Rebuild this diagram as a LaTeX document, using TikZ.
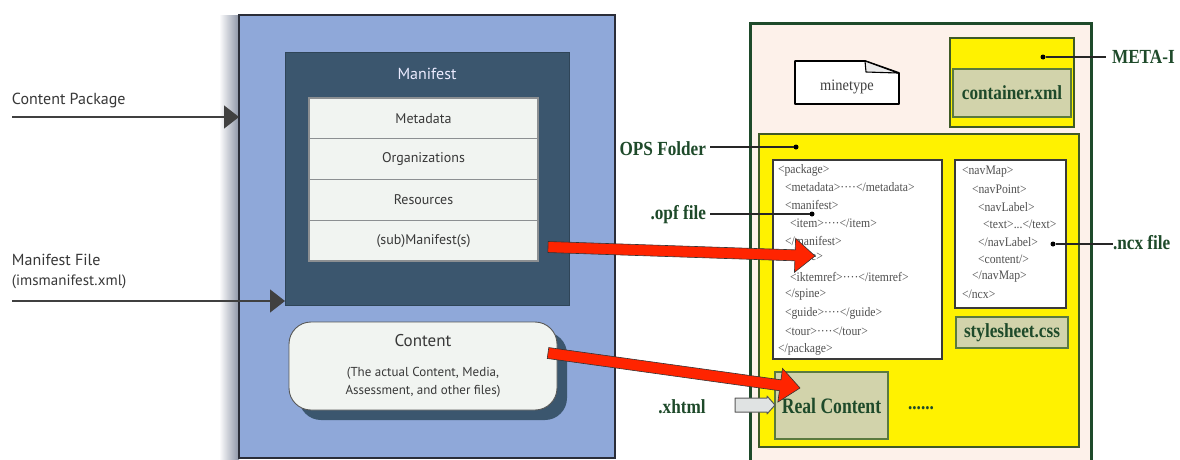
\documentclass[tikz,border=0pt]{standalone}
\usepackage{graphicx}
\usepackage{fontspec}
\setmainfont{Liberation Serif}
\newfontfamily\lsans{PT Sans}
\usetikzlibrary{arrows.meta,calc}

\definecolor{panelblue}{HTML}{8FA8D9}
\definecolor{panelframe}{HTML}{2A2D38}
\definecolor{shadowgray}{HTML}{8C94A6}
\definecolor{manifestbg}{HTML}{3B566E}
\definecolor{manifestframe}{HTML}{2F4558}
\definecolor{rowbg}{HTML}{F1F4F1}
\definecolor{rowline}{HTML}{8C8F92}
\definecolor{labelgray}{HTML}{383838}
\definecolor{opsgreen}{HTML}{1E4A2A}
\definecolor{peach}{HTML}{FDF1EA}
\definecolor{olive}{HTML}{D2D3AB}
\definecolor{oliveline}{HTML}{5B7A3E}
\definecolor{yellowline}{HTML}{3F5A26}
\definecolor{codegray}{HTML}{505050}
\definecolor{codeframe}{HTML}{3A3A3A}
\definecolor{arrowred}{HTML}{FF2400}
\definecolor{hintgray}{HTML}{E0E3E3}

% condensed bold label text
\newcommand\sq[2][0.86]{\scalebox{#1}[1]{#2}}

% thick outlined block arrow from #1 to its tip #2
\newcommand\fatarrow[2]{%
  \coordinate (fa-base) at ($(#2)!20pt!(#1)$);
  \path[fatred] ($(#1)!5.5pt!90:(#2)$) -- ($(fa-base)!5.5pt!90:(#2)$)
    -- ($(fa-base)!17pt!90:(#2)$) -- (#2) -- ($(fa-base)!17pt!-90:(#2)$)
    -- ($(fa-base)!5.5pt!-90:(#2)$) -- ($(#1)!5.5pt!-90:(#2)$) -- cycle;}

\begin{document}
\begin{tikzpicture}[x=1pt,y=-1pt,
  every node/.style={inner sep=0pt,outer sep=0pt},
  box/.style={anchor=north west},
  sanslbl/.style={anchor=west,font=\lsans\fontsize{16}{18}\selectfont,text=labelgray},
  rowbox/.style={box,fill=rowbg,draw=rowline,line width=1.2pt,minimum width=229pt,
    minimum height=40.75pt,font=\lsans\fontsize{14}{16}\selectfont,text=labelgray},
  greenlbl/.style={font=\fontsize{20}{22}\selectfont\bfseries,text=opsgreen},
  olivebox/.style={box,fill=olive,draw=oliveline,line width=1.5pt},
  yellowbox/.style={box,fill=yellow,draw=yellowline,line width=1.6pt},
  codebox/.style={box,fill=white,draw=codeframe,line width=1.2pt},
  code/.style={anchor=west,font=\fontsize{13}{13}\selectfont,text=codegray,xscale=0.9},
  pin/.style={circle,fill=black,minimum size=5pt},
  pinline/.style={draw=black!85,line width=1.2pt},
  fatred/.style={fill=arrowred,draw=black!80,line width=0.6pt,line join=miter},
  pointer/.style={draw=black!75,line width=1.3pt,-{Triangle[length=15pt,width=23pt]}},
]
\useasboundingbox (0,0) rectangle (1180,459);
\fill[white] (0,0) rectangle (1180,459);

% ---------- content package (left) ----------
\shade[left color=white,right color=shadowgray] (219,15) rectangle (239,470);
\node[box,fill=panelblue,draw=panelframe,line width=1.3pt,
  minimum width=376pt,minimum height=443pt] (pkg) at (239,15) {};

\node[box,fill=manifestbg,draw=manifestframe,line width=0.8pt,
  minimum width=284pt,minimum height=253pt] (manifest) at (285,52) {};
\node[font=\lsans\fontsize{16}{18}\selectfont,text=white!92!blue] (mtitle) at (427,74) {Manifest};

\node[rowbox] (meta) at (309,98) {Metadata};
\node[rowbox] (orgs) at (309,138.75) {Organizations};
\node[rowbox] (res)  at (309,179.5) {Resources};
\node[rowbox] (subm) at (309,220.25) {(sub)Manifest(s)};

\node[box,fill=manifestbg,rounded corners=22pt,minimum width=268pt,minimum height=88pt]
  (contentshadow) at (299,332) {};
\node[box,fill=rowbg,draw=black!65,line width=0.9pt,rounded corners=22pt,
  minimum width=268pt,minimum height=88pt] (content) at (289,322) {};
\node[font=\lsans\fontsize{17}{19}\selectfont,text=labelgray] (ctitle) at (423,341) {Content};
\node[font=\lsans\fontsize{13}{18}\selectfont,text=labelgray,align=center] (cdesc) at (423,382)
  {(The actual Content, Media,\\Assessment, and other files)};

\node[sanslbl] (cpk) at (12,100) {Content Package};
\node[sanslbl] (mfile) at (12,260) {Manifest File};
\node[sanslbl,font=\lsans\fontsize{15}{17}\selectfont] (ims) at (12,282) {(imsmanifest.xml)};
\coordinate (cpkstart) at (12,117);
\coordinate (mfstart) at (12,301);
\draw[pointer] (cpkstart) -- (cpkstart -| pkg.west);
\draw[pointer] (mfstart) -- (mfstart -| manifest.west);

% ---------- EPUB container (right) ----------
\node[box,fill=peach,draw=opsgreen,line width=3pt,
  minimum width=341pt,minimum height=470pt] (epub) at (750,23) {};

% mimetype document icon
\draw[black,line width=1.8pt,fill=white,line join=round]
  (795,61) -- (865,61) -- (899,73) -- (899,104) -- (795,104) -- cycle;
\draw[black,line width=1.1pt,fill=black!8,line join=round]
  (865,61) -- (866,72) -- (898,73) -- cycle;
\node[font=\fontsize{16}{16}\selectfont,text=black!75] (mime) at (847,87) {\sq[0.9]{minetype}};

\node[yellowbox,minimum width=124pt,minimum height=89pt] (metainf) at (950,38) {};
\node[olivebox,minimum width=118pt,minimum height=48pt,greenlbl] (container) at (953,69) {\sq{container.xml}};

\node[yellowbox,line width=2pt,minimum width=320pt,minimum height=313pt] (ops) at (759,134) {};

\node[codebox,minimum width=169pt,minimum height=199pt] (opf) at (773,160) {};
\node[code] (o1)  at (778,170) {<package>};
\node[code] (o2)  at (785,187.5) {<metadata>····</metadata>};
\node[code] (o3)  at (785,205) {<manifest>};
\node[code] (o4)  at (790,223) {<item>····</item>};
\node[code] (o5)  at (785,240.5) {</manifest>};
\node[code] (o6)  at (785,258) {<spine>};
\node[code] (o7)  at (790,276.5) {<iktemref>····</itemref>};
\node[code] (o8)  at (785,294.5) {</spine>};
\node[code] (o9)  at (785,313) {<guide>····</guide>};
\node[code] (o10) at (785,331) {<tour>····</tour>};
\node[code] (o11) at (778,349) {</package>};

\node[codebox,minimum width=111pt,minimum height=148pt] (ncx) at (955,160) {};
\node[code] (n1) at (962,172) {<navMap>};
\node[code] (n2) at (972,189.5) {<navPoint>};
\node[code] (n3) at (978,207) {<navLabel>};
\node[code] (n4) at (983,224.5) {<text>...</text>};
\node[code] (n5) at (978,242) {</navLabel>};
\node[code] (n6) at (978,259.5) {<content/>};
\node[code] (n7) at (972,277) {</navMap>};
\node[code] (n8) at (962,294.5) {</ncx>};

\node[olivebox,minimum width=112pt,minimum height=31pt,greenlbl] (css) at (956,317) {\sq{stylesheet.css}};
\node[olivebox,minimum width=113pt,minimum height=67pt,greenlbl,
  font=\fontsize{22}{24}\selectfont\bfseries] (real) at (775,372) {\sq[0.8]{Real Content}};
\node[greenlbl] (more) at (921,408) {\sq{......}};

% side labels with leader lines
\node[greenlbl,anchor=west] (metalbl) at (1112,57) {\sq{META-I}};
\node[pin] (metadot) at (1043,57) {};
\draw[pinline] (metadot) -- ([xshift=-6pt]metalbl.west);

\node[greenlbl,anchor=east] (opslbl) at (706,149) {\sq{OPS Folder}};
\node[pin] (opsdot) at (796,147) {};
\draw[pinline] ([xshift=4pt]opslbl.east |- opsdot) -- (opsdot);

\node[greenlbl,anchor=east] (opflbl) at (706,215) {\sq{.opf file}};
\node[pin] (opfdot) at (812,214) {};
\draw[pinline] ([xshift=4pt]opflbl.east |- opfdot) -- (opfdot);

\node[greenlbl,anchor=west] (ncxlbl) at (1113,243) {\sq{.ncx file}};
\node[pin] (ncxdot) at (1053,244) {};
\draw[pinline] (ncxdot) -- (ncxdot -| ncxlbl.west);

\node[greenlbl] (xhtml) at (682,407) {\sq{.xhtml}};
\draw[draw=black!65,fill=hintgray,line width=1pt,line join=round]
  (735,398) -- (767,398) -- (767,396) -- (real.west |- 0,405) -- (767,414) -- (767,412) -- (735,412) -- cycle;

% mapping arrows from the package to the EPUB files
\coordinate (subm-out) at (548,247);
\coordinate (opf-in) at (815,256);
\coordinate (content-out) at (548,353);
\coordinate (real-in) at (800,388);
\fatarrow{subm-out}{opf-in}
\fatarrow{content-out}{real-in}
\end{tikzpicture}
\end{document}
